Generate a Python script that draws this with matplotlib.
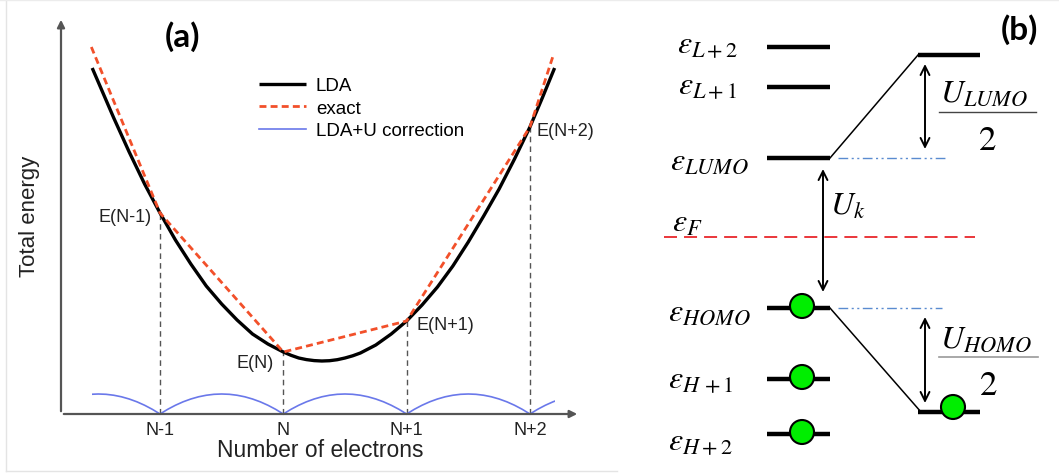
import numpy as np
import matplotlib
matplotlib.use("Agg")
import matplotlib.pyplot as plt
from matplotlib.patches import Rectangle, Circle

plt.rcParams['mathtext.fontset'] = 'stix'
plt.rcParams['font.family'] = ['Liberation Sans', 'DejaVu Sans']

# ---------- (a) total energy vs number of electrons ----------
# electron number relative to N, energies in arbitrary units (0 = axis)
lda_n = [-1.55, -1.375, -1.25, -1.125, -1.0, -0.875, -0.75, -0.625, -0.5, -0.375,
         -0.25, -0.125, 0.0, 0.0625, 0.125, 0.1875, 0.25, 0.3125, 0.375, 0.4375, 0.5,
         0.5625, 0.625, 0.75, 0.875, 1.0,
         1.125, 1.25, 1.375, 1.5, 1.625, 1.75, 1.875, 2.0, 2.1, 2.2]
lda_e = [346, 296, 262, 230, 201, 174, 150, 128, 110, 94,
         80, 70, 62, 58.7, 56, 54.4, 53.4, 53.0, 53.3, 54.3, 56,
         58.2, 61, 69, 80, 93,
         109, 127, 148, 172, 198, 225, 255, 287, 316, 346]

exact_n = [-1.557, -1, 0, 1, 2, 2.19]
exact_e = [367, 201, 62, 93, 287, 359]

int_n = [-1, 0, 1, 2]
int_e = [201, 62, 93, 287]
tick_labels = ['N-1', 'N', 'N+1', 'N+2']
point_labels = ['E(N-1)', 'E(N)', 'E(N+1)', 'E(N+2)']

# shape of one LDA+U correction arch between two integers
arc_t = [0, 0.0625, 0.125, 0.1875, 0.25, 0.3125, 0.375, 0.4375, 0.5,
         0.5625, 0.625, 0.6875, 0.75, 0.8125, 0.875, 0.9375, 1]
arc_h = [0, 4.7, 8.75, 12.2, 15, 17.2, 18.75, 19.7, 20,
         19.7, 18.75, 17.2, 15, 12.2, 8.75, 4.7, 0]
arc_start = [-2, -1, 0, 1, 2]

# ---------- (b) level diagram ----------
lvl_names = ['L+2', 'L+1', 'LUMO', 'HOMO', 'H\\,+1', 'H+2']
lvl_energy = [429, 389, 318, 168, 97, 42]
lvl_filled = [False, False, False, True, True, True]
fermi_energy = 239
lumo_shifted = 421
homo_shifted = 64

W, H = 1059, 477
fig = plt.figure(figsize=(W / 100, H / 100), dpi=100)

# left panel axes, placed in pixel terms
ax = fig.add_axes([61 / W, (H - 415) / H, (580 - 61) / W, (415 - 18) / H])
ax.set_xlim(-1.803, 2.406)
ax.set_ylim(0, 397)
for s in ax.spines.values():
    s.set_visible(False)
ax.annotate('', xy=(1, 0), xytext=(0, 0), xycoords='axes fraction',
            arrowprops=dict(arrowstyle='-|>', color='#555555', lw=1.6, mutation_scale=11))
ax.annotate('', xy=(0, 1), xytext=(0, 0), xycoords='axes fraction',
            arrowprops=dict(arrowstyle='-|>', color='#555555', lw=1.6, mutation_scale=11))

lda_line, = ax.plot(lda_n, lda_e, color='black', lw=2.4, solid_capstyle='butt',
                    solid_joinstyle='round', label='LDA')
exact_line, = ax.plot(exact_n, exact_e, color='#f2502a', lw=2.0, dashes=(2.5, 1.5), label='exact')

clip = Rectangle((-1.55, -10), 3.75, 60, transform=ax.transData)
for n0 in arc_start:
    ln, = ax.plot([n0 + t for t in arc_t], arc_h, color='#6a78ea', lw=1.2)
    ln.set_clip_path(clip)
arc_line = ln
arc_line.set_label('LDA+U correction')

for n, e in zip(int_n, int_e):
    ax.plot([n, n], [0, e], color='#555555', lw=1.0, dashes=(4, 3), zorder=1)

lab_off = [(-0.07, -4, 'right'), (-0.08, -11, 'right'), (0.08, -4, 'left'), (0.05, -3, 'left')]
for n, e, txt, (dx, dy, ha) in zip(int_n, int_e, point_labels, lab_off):
    ax.text(n + dx, e + dy, txt, ha=ha, va='center', fontsize=13, color='#222222')

ax.set_xticks(int_n)
ax.set_xticklabels(tick_labels, fontsize=13, color='#222222')
ax.set_yticks([])
ax.tick_params(axis='x', length=0, pad=5)
ax.set_xlabel('Number of electrons', fontsize=16.5, labelpad=0, color='#222222')
ax.set_ylabel('Total energy', fontsize=16, labelpad=15, color='#222222')

ax.legend(handles=[lda_line, exact_line, arc_line], loc='upper left',
          bbox_to_anchor=(0.381, 0.848), frameon=False, fontsize=13.5,
          handlelength=2.5, handletextpad=0.55, labelspacing=0.28,
          borderpad=0, borderaxespad=0)

# overlay axes in pixel units for panel (b) and the panel letters
ov = fig.add_axes([0, 0, 1, 1])
ov.set_xlim(0, W)
ov.set_ylim(0, H)
ov.axis('off')
ov.patch.set_alpha(0)

# faint frame round panel (a)
ov.plot([6, 6], [H - 2, H - 472], color='#e4e4e4', lw=1)
ov.plot([6, 617], [H - 472, H - 472], color='#e4e4e4', lw=1)
ov.plot([0, W], [H - 1, H - 1], color='#ececec', lw=1)

ov.text(182, H - 37, '(a)', fontsize=24, fontweight='bold', family='Lato',
        ha='center', va='center')
ov.text(1019, H - 30, '(b)', fontsize=24, fontweight='bold', family='Lato',
        ha='center', va='center')

lx0, lx1 = 767, 830
rx0, rx1 = 918, 980
lab_x = [677, 678, 670, 668, 668, 668]
lab_y = [432, 391, 315, 164, 97, 35]

for name, e, filled, tx, ty in zip(lvl_names, lvl_energy, lvl_filled, lab_x, lab_y):
    ov.plot([lx0, lx1], [e, e], color='black', lw=3.2, solid_capstyle='butt')
    ov.text(tx, ty, r'$\varepsilon_{%s}$' % name, fontsize=23, ha='left', va='center')
    if filled:
        ov.add_patch(Circle((802, e + 2), 12, facecolor='#00ee00', edgecolor='black',
                            lw=1.5, zorder=5))

ov.text(672, 253, r'$\varepsilon_{F}$', fontsize=23, ha='left', va='center')

# shifted levels
for e in [lumo_shifted, homo_shifted]:
    ov.plot([rx0, rx1], [e, e], color='black', lw=3.2, solid_capstyle='butt')
ov.add_patch(Circle((953, homo_shifted + 5), 12, facecolor='#00ee00', edgecolor='black',
                    lw=1.5, zorder=5))

e_lumo = lvl_energy[2]
e_homo = lvl_energy[3]
ov.plot([lx1, rx0], [e_lumo, lumo_shifted], color='black', lw=1.1)
ov.plot([lx1, rx0 + 3], [e_homo, homo_shifted], color='black', lw=1.1)

ov.plot([838, 948], [e_lumo, e_lumo], color='#5a8bd0', lw=1.0, dashes=(7, 2.5, 1.5, 2.5, 1.5, 2.5))
ov.plot([838, 942], [e_homo, e_homo], color='#5a8bd0', lw=1.0, dashes=(7, 2.5, 1.5, 2.5, 1.5, 2.5))

ov.plot([664, 975], [fermi_energy, fermi_energy], color='#e8262b', lw=1.3, dashes=(7.2, 3.9))

arr = dict(arrowstyle='<->', color='black', lw=1.4, mutation_scale=16, shrinkA=0, shrinkB=0)
ov.annotate('', xy=(823, e_homo + 16), xytext=(823, e_lumo - 11), arrowprops=arr)
ov.annotate('', xy=(925, e_lumo + 9), xytext=(925, lumo_shifted - 9), arrowprops=arr)
ov.annotate('', xy=(925, homo_shifted + 9), xytext=(925, e_homo - 9), arrowprops=arr)

ov.text(830, 270, r'$U_{k}$', fontsize=23, ha='left', va='center')

ov.text(940, 383, r'$U_{LUMO}$', fontsize=23, ha='left', va='center')
ov.plot([939, 1036], [364, 364], color='#444444', lw=1.0)
ov.text(987, 337, r'$2$', fontsize=25, ha='center', va='center')

ov.text(940, 137, r'$U_{HOMO}$', fontsize=23, ha='left', va='center')
ov.plot([939, 1038], [119, 119], color='#999999', lw=1.2)
ov.text(988, 91, r'$2$', fontsize=25, ha='center', va='center')

fig.savefig('out.png', dpi=100)
